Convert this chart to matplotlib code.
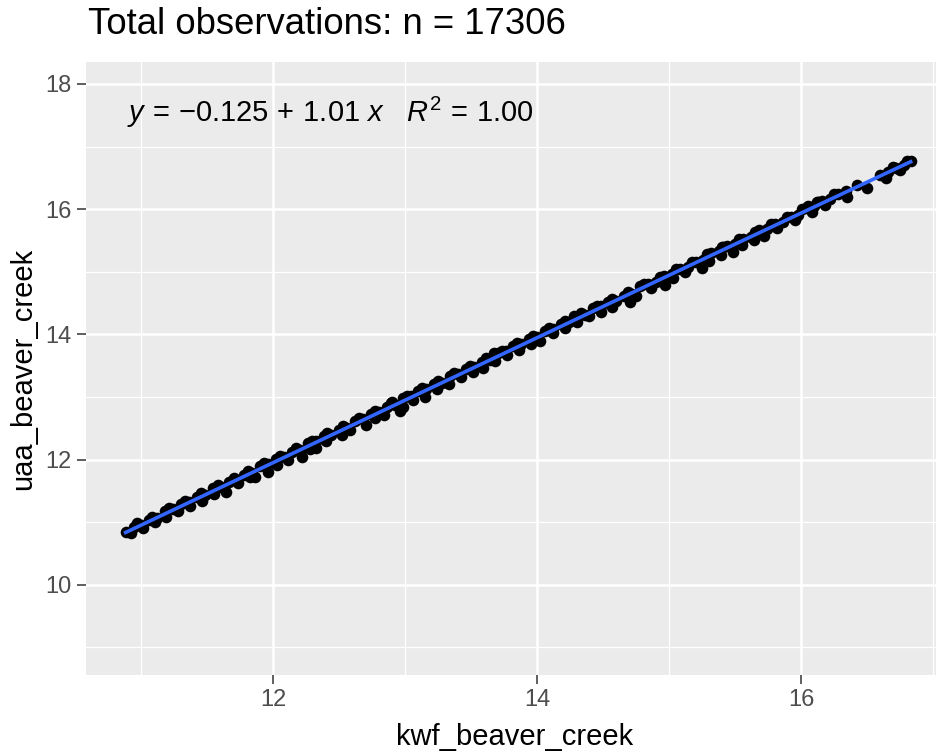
import numpy as np
import matplotlib
matplotlib.use("Agg")
import matplotlib.pyplot as plt

# Данные (kwf_beaver_creek -> uaa_beaver_creek)
kwf_core = [10.88, 10.94, 11.00, 11.06, 11.12, 11.18, 11.24, 11.30, 11.36, 11.42,
            11.48, 11.54, 11.60, 11.66, 11.72, 11.78, 11.84, 11.90, 11.96, 12.02,
            12.08, 12.14, 12.20, 12.26, 12.32, 12.38, 12.44, 12.50, 12.56, 12.62,
            12.68, 12.74, 12.80, 12.86, 12.92, 12.98, 13.04, 13.10, 13.16, 13.22,
            13.28, 13.34, 13.40, 13.46, 13.52, 13.58, 13.64, 13.70, 13.76, 13.82,
            13.88, 13.94, 14.00, 14.06, 14.12, 14.18, 14.24, 14.30, 14.36, 14.42,
            14.48, 14.54, 14.60, 14.66, 14.72, 14.78, 14.84, 14.90, 14.96, 15.02,
            15.08, 15.14, 15.20, 15.26, 15.32, 15.38, 15.44, 15.50, 15.56, 15.62,
            15.68, 15.74, 15.80, 15.86, 15.92, 15.98, 16.04, 16.10, 16.16, 16.22,
            16.28, 16.34, 16.42, 16.60, 16.66, 16.72, 16.78, 16.83]
uaa_core = [10.85, 10.93, 10.96, 11.04, 11.07, 11.18, 11.21, 11.29, 11.32, 11.40,
            11.43, 11.54, 11.57, 11.65, 11.68, 11.76, 11.79, 11.90, 11.93, 12.01,
            12.04, 12.12, 12.15, 12.26, 12.29, 12.37, 12.40, 12.48, 12.51, 12.62,
            12.65, 12.73, 12.76, 12.84, 12.87, 12.98, 13.01, 13.09, 13.12, 13.20,
            13.23, 13.34, 13.37, 13.45, 13.48, 13.56, 13.59, 13.70, 13.73, 13.81,
            13.84, 13.92, 13.95, 14.06, 14.09, 14.17, 14.20, 14.28, 14.31, 14.42,
            14.45, 14.51, 14.54, 14.62, 14.65, 14.77, 14.80, 14.84, 14.93, 14.97,
            15.05, 15.08, 15.16, 15.19, 15.30, 15.33, 15.41, 15.44, 15.52, 15.55,
            15.66, 15.69, 15.77, 15.80, 15.88, 15.91, 16.02, 16.05, 16.13, 16.16,
            16.24, 16.29, 16.38, 16.55, 16.59, 16.66, 16.71, 16.77]

kwf_low = [10.92, 11.01, 11.10, 11.19, 11.28, 11.37, 11.46, 11.55, 11.64, 11.73,
           11.82, 11.86, 11.96, 12.03, 12.11, 12.22, 12.28, 12.32, 12.40, 12.52,
           12.58, 12.70, 12.77, 12.84, 12.96, 12.98, 13.06, 13.15, 13.24, 13.33,
           13.42, 13.51, 13.59, 13.68, 13.77, 13.86, 13.95, 14.02, 14.12, 14.21,
           14.30, 14.39, 14.48, 14.57, 14.70, 14.75, 14.86, 14.97, 15.03, 15.12,
           15.25, 15.30, 15.39, 15.48, 15.55, 15.64, 15.72, 15.82, 15.95, 16.08,
           16.18, 16.35, 16.50, 16.64, 16.75]
uaa_low = [10.83, 10.91, 11.00, 11.08, 11.18, 11.26, 11.34, 11.45, 11.49, 11.62,
           11.72, 11.72, 11.80, 11.92, 11.99, 12.04, 12.17, 12.19, 12.30, 12.40,
           12.47, 12.56, 12.67, 12.72, 12.78, 12.84, 12.95, 13.00, 13.13, 13.21,
           13.32, 13.40, 13.46, 13.57, 13.67, 13.75, 13.84, 13.89, 14.02, 14.10,
           14.19, 14.29, 14.36, 14.44, 14.51, 14.62, 14.74, 14.79, 14.90, 15.00,
           15.06, 15.17, 15.27, 15.31, 15.43, 15.51, 15.57, 15.70, 15.82, 15.96,
           16.06, 16.19, 16.34, 16.50, 16.62]

kwf_high = [10.97, 11.08, 11.21, 11.33, 11.45, 11.58, 11.70, 11.81, 11.93, 12.05,
            12.17, 12.29, 12.41, 12.53, 12.65, 12.77, 12.89, 12.90, 13.01, 13.13,
            13.25, 13.37, 13.49, 13.61, 13.67, 13.73, 13.85, 13.97, 14.09, 14.21,
            14.28, 14.33, 14.45, 14.57, 14.69, 14.81, 14.93, 15.05, 15.17, 15.29,
            15.40, 15.41, 15.53, 15.65, 15.77, 15.89, 16.01, 16.05, 16.12, 16.13,
            16.25, 16.70, 16.80]
uaa_high = [10.98, 11.09, 11.22, 11.34, 11.46, 11.59, 11.71, 11.82, 11.94, 12.06,
            12.18, 12.30, 12.42, 12.54, 12.66, 12.78, 12.90, 12.92, 13.02, 13.14,
            13.26, 13.38, 13.50, 13.62, 13.70, 13.74, 13.86, 13.98, 14.10, 14.22,
            14.30, 14.34, 14.46, 14.56, 14.68, 14.80, 14.92, 15.04, 15.16, 15.28,
            15.39, 15.40, 15.52, 15.64, 15.76, 15.88, 16.00, 16.05, 16.12, 16.12,
            16.24, 16.67, 16.77]

n_obs = 17306
eq_intercept = -0.125
eq_slope = 1.01
eq_r2 = 1.00

x_ticks = [12, 14, 16]
y_ticks = [10, 12, 14, 16, 18]


def plot_data():
    """Диаграмма рассеяния с линией сглаживания в стиле ggplot."""
    plt.rcParams['font.family'] = ['Liberation Sans', 'DejaVu Sans']
    plt.rcParams['mathtext.fontset'] = 'custom'
    plt.rcParams['mathtext.rm'] = 'Liberation Sans'
    plt.rcParams['mathtext.it'] = 'Liberation Sans:italic'

    x = np.array(kwf_core + kwf_low + kwf_high)
    y = np.array(uaa_core + uaa_low + uaa_high)

    fig = plt.figure(figsize=(9.37, 7.53), dpi=100)
    ax = fig.add_axes([0.0918, 0.1036, 0.9082, 0.8141])
    ax.set_facecolor('#EBEBEB')
    for s in ax.spines.values():
        s.set_visible(False)

    ax.scatter(x, y, s=70, color='black', linewidths=0, zorder=3)

    # Сглаживание (аналог geom_smooth)
    coef = np.polyfit(x, y, 3)
    xs = np.linspace(x.min(), x.max(), 200)
    ax.plot(xs, np.polyval(coef, xs), color='#3366FF', lw=2.6, zorder=4)

    ax.set_xlim(10.58, 17.03)
    ax.set_ylim(8.56, 18.35)
    ax.set_xticks(x_ticks)
    ax.set_yticks(y_ticks)
    ax.set_xticks([11, 13, 15, 17], minor=True)
    ax.set_yticks([9, 11, 13, 15, 17], minor=True)
    ax.grid(True, which='major', color='white', lw=1.8, zorder=0)
    ax.grid(True, which='minor', color='white', lw=0.9, zorder=0)
    ax.set_axisbelow(True)
    ax.tick_params(which='major', length=6.3, width=1.1, color='#333333',
                   labelcolor='#4D4D4D', labelsize=17, pad=4)
    ax.tick_params(which='minor', length=0)

    ax.set_xlabel('kwf_beaver_creek', fontsize=21, color='black', labelpad=4)
    ax.xaxis.set_label_coords(0.504, -0.078)
    ax.set_ylabel('uaa_beaver_creek', fontsize=21, color='black', labelpad=6)

    sign = '-' if eq_intercept < 0 else '+'
    label = (r'$y\,=\,{%s}%.3f\,+\,%.2f\ x\quad R^2\,=\,%.2f$'
             % (sign, abs(eq_intercept), eq_slope, eq_r2))
    ax.text(0.048, 0.918, label, transform=ax.transAxes, fontsize=21,
            ha='left', va='center', color='black')

    fig.text(88 / 937, 1 - 25 / 753, 'Total observations: n = %d' % n_obs,
             fontsize=26.3, ha='left', va='center', color='black')

    fig.savefig('out.png', dpi=100)


if __name__ == "__main__":
    plot_data()
